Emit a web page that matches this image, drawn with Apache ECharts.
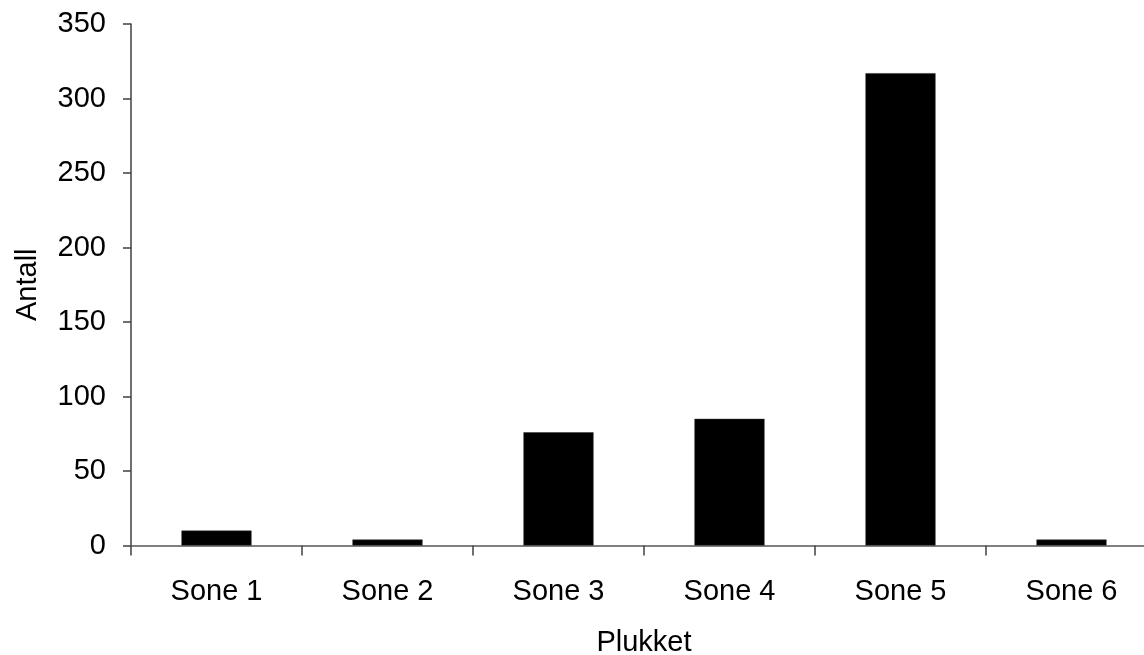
<!DOCTYPE html>
<html>
<head>
<meta charset="utf-8">
<script src="https://cdn.jsdelivr.net/npm/echarts@6/dist/echarts.min.js"></script>
<style>
html,body{margin:0;padding:0;background:#fff;}
#chart{width:1144px;height:655px;}
</style>
</head>
<body>
<div id="chart"></div>
<script>
var categories = ['Sone 1', 'Sone 2', 'Sone 3', 'Sone 4', 'Sone 5', 'Sone 6'];
var values = [10, 4, 76, 85, 317, 4];
var yTicks = [0, 50, 100, 150, 200, 250, 300, 350];

var chart = echarts.init(document.getElementById('chart'));
var font = 'Liberation Sans, Arial, sans-serif';
var fs = 29;
chart.setOption({
  animation: false,
  backgroundColor: '#ffffff',
  grid: { left: 131, top: 24, width: 1026, height: 521.5, containLabel: false, outerBoundsMode: 'none' },
  xAxis: [{
    type: 'category',
    data: categories,
    name: 'Plukket',
    nameLocation: 'middle',
    nameGap: 83,
    nameTextStyle: { color: '#000', fontSize: fs, fontFamily: font },
    axisLine: { show: true, onZero: false, lineStyle: { color: '#404040', width: 1.5 } },
    axisTick: { show: true, alignWithLabel: false, length: 10, lineStyle: { color: '#404040', width: 1.5 } },
    axisLabel: { color: '#000', fontSize: fs, fontFamily: font, margin: 32 },
    splitLine: { show: false }
  }, {
    type: 'category',
    data: categories,
    position: 'top',
    axisLine: { show: true, lineStyle: { color: '#808080', width: 2 } },
    axisTick: { show: false },
    axisLabel: { show: false },
    splitLine: { show: false }
  }],
  yAxis: {
    type: 'value',
    min: yTicks[0],
    max: yTicks[yTicks.length - 1],
    interval: yTicks[1] - yTicks[0],
    name: 'Antall',
    nameLocation: 'middle',
    nameGap: 89,
    nameRotate: 90,
    nameTextStyle: { color: '#000', fontSize: fs, fontFamily: font },
    axisLine: { show: true, lineStyle: { color: '#404040', width: 1.5 } },
    axisTick: { show: true, length: 8, lineStyle: { color: '#404040', width: 1.5 } },
    axisLabel: { color: '#000', fontSize: fs, fontFamily: font, margin: 25 },
    splitLine: { show: false }
  },
  series: [{
    type: 'bar',
    data: values,
    barWidth: '41%',
    itemStyle: { color: '#000000', borderColor: '#333', borderWidth: 0.5 }
  }]
});
</script>
</body>
</html>
